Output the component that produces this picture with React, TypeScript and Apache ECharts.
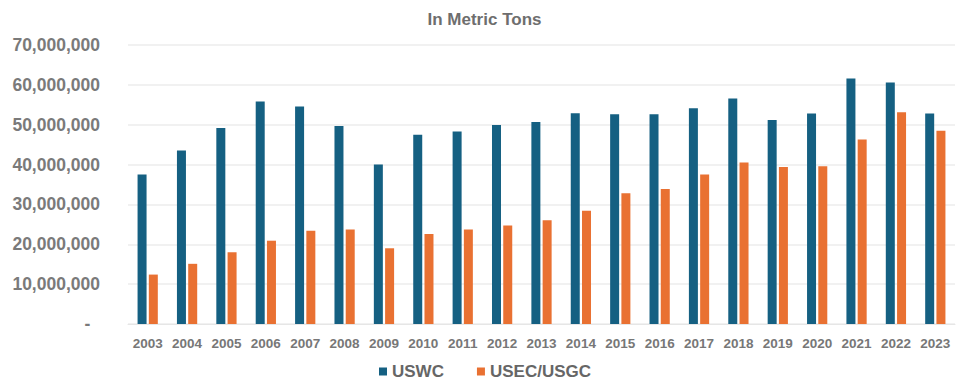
import React, { useEffect, useRef } from "react";
import * as echarts from "echarts";

const years = [
  "2003", "2004", "2005", "2006", "2007", "2008", "2009", "2010", "2011", "2012", "2013",
  "2014", "2015", "2016", "2017", "2018", "2019", "2020", "2021", "2022", "2023",
];

const uswc = [
  37500000, 43500000, 49200000, 55800000, 54600000, 49700000, 40000000, 47500000, 48300000,
  49900000, 50700000, 52900000, 52600000, 52600000, 54100000, 56600000, 51200000, 52800000,
  61600000, 60600000, 52800000,
];

const usecUsgc = [
  12400000, 15100000, 18000000, 20900000, 23400000, 23700000, 19000000, 22600000, 23700000,
  24700000, 26000000, 28400000, 32800000, 33900000, 37500000, 40500000, 39400000, 39600000,
  46300000, 53100000, 48500000,
];

const seriesNames = ["USWC", "USEC/USGC"];
const chartTitle = "In Metric Tons";

const fmt = (v: number) => (v === 0 ? "-  " : v.toLocaleString("en-US"));

export default function App() {
  const ref = useRef<HTMLDivElement>(null);

  useEffect(() => {
    if (!ref.current) return;
    const chart = echarts.init(ref.current, undefined, { renderer: "svg" });
    const font = "'Liberation Sans', Arial, sans-serif";
    chart.setOption({
      animation: false,
      backgroundColor: "#ffffff",
      title: {
        text: chartTitle,
        left: "center",
        top: 6,
        textStyle: { fontFamily: font, fontSize: 17, fontWeight: "bold", color: "#6e6e6e" },
      },
      legend: {
        data: seriesNames,
        bottom: 1,
        left: 379,
        padding: 0,
        itemWidth: 8,
        itemHeight: 8,
        itemGap: 33,
        icon: "rect",
        textStyle: {
          fontFamily: font,
          fontSize: 17,
          fontWeight: "bold",
          color: "#666666",
        },
      },
      grid: { left: 128, right: 14, top: 45, bottom: 57 },
      xAxis: {
        type: "category",
        data: years,
        axisTick: { show: false },
        axisLine: { lineStyle: { color: "#e6e6e6" } },
        axisLabel: {
          fontFamily: font,
          fontSize: 13.5,
          fontWeight: "bold",
          color: "#777777",
          margin: 12,
        },
      },
      yAxis: {
        type: "value",
        min: 0,
        max: 70000000,
        interval: 10000000,
        axisLine: { show: false },
        axisTick: { show: false },
        splitLine: { lineStyle: { color: "#ececec", width: 1.5 } },
        axisLabel: {
          fontFamily: font,
          fontSize: 17.5,
          fontWeight: "bold",
          color: "#7a7a7a",
          margin: 28,
          formatter: fmt,
        },
      },
      series: [
        {
          name: seriesNames[0],
          type: "bar",
          data: uswc,
          barWidth: 9,
          barGap: "25%",
          itemStyle: { color: "#156082" },
        },
        {
          name: seriesNames[1],
          type: "bar",
          data: usecUsgc,
          barWidth: 9,
          itemStyle: { color: "#e97132" },
        },
      ],
    });
    return () => chart.dispose();
  }, []);

  return (
    <div
      ref={ref}
      style={{ position: "fixed", left: 0, top: 0, width: 969, height: 381 }}
    />
  );
}
